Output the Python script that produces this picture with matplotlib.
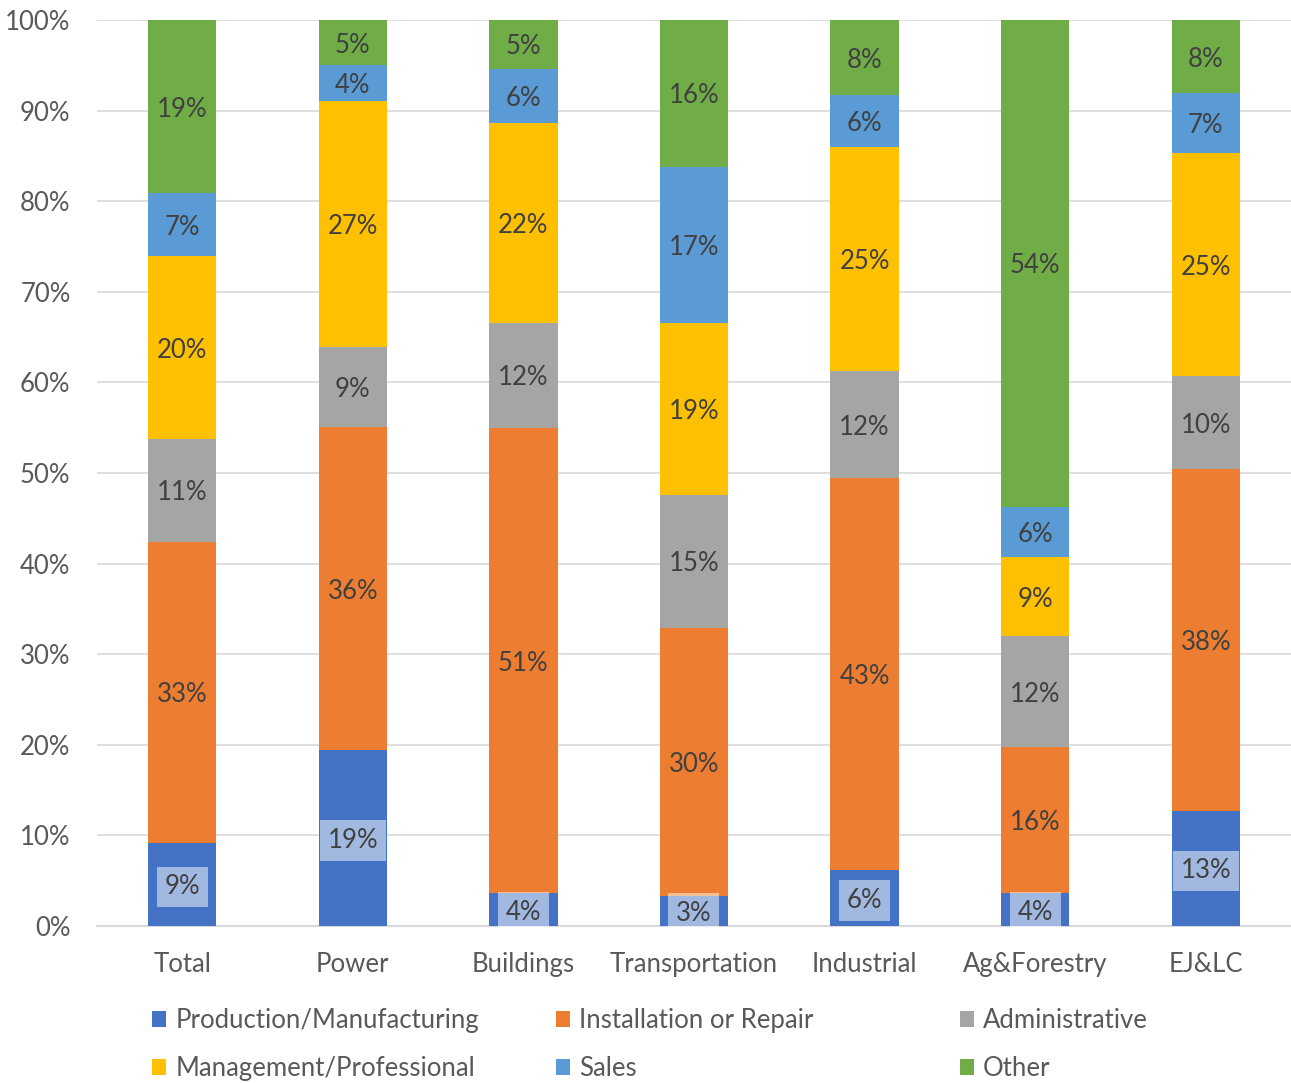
import matplotlib
matplotlib.use("Agg")
import matplotlib.pyplot as plt
import numpy as np
from matplotlib.patches import Patch

categories = ["Total", "Power", "Buildings", "Transportation", "Industrial", "Ag&Forestry", "EJ&LC"]
series_names = ["Production/Manufacturing", "Installation or Repair", "Administrative",
                "Management/Professional", "Sales", "Other"]
production = [9.2, 19.4, 3.6, 3.3, 6.2, 3.6, 12.7]
installation = [33.2, 35.7, 51.4, 29.6, 43.2, 16.1, 37.7]
administrative = [11.4, 8.8, 11.6, 14.7, 11.9, 12.3, 10.3]
management = [20.1, 27.2, 22.0, 19.0, 24.7, 8.7, 24.6]
sales = [7.0, 3.9, 6.0, 17.2, 5.7, 5.6, 6.6]
other = [19.1, 5.0, 5.4, 16.2, 8.3, 53.7, 8.1]
yticks = [0, 10, 20, 30, 40, 50, 60, 70, 80, 90, 100]

colors = ["#4472C4", "#ED7D31", "#A5A5A5", "#FFC000", "#5B9BD5", "#70AD47"]
series = [production, installation, administrative, management, sales, other]

FS = 18.5
plt.rcParams['font.family'] = ['Lato', 'DejaVu Sans']
fig = plt.figure(figsize=(12.91, 10.83), dpi=100)
ax = fig.add_axes([0.0751, 0.145, 0.9249, 0.8365])

x = np.arange(len(categories))
bottom = np.zeros(len(categories))
for i, (vals, col) in enumerate(zip(series, colors)):
    vals = np.array(vals)
    ax.bar(x, vals, 0.4, bottom=bottom, color=col, zorder=3)
    for xi, v, b in zip(x, vals, bottom):
        txt = f"{round(v):.0f}%"
        kw = {}
        if i == 0:
            kw['bbox'] = dict(boxstyle='square,pad=0.3', fc='white', ec='none', alpha=0.5)
        ax.text(xi, b + v / 2, txt, ha='center', va='center_baseline', fontsize=FS,
                color='#404040', zorder=4, **kw)
    bottom += vals

ax.set_xlim(-0.5, len(categories) - 0.5)
ax.set_ylim(0, 100)
ax.set_yticks(yticks)
ax.set_yticklabels([f"{t}%" for t in yticks])
ax.set_xticks(x)
ax.set_xticklabels(categories)
ax.tick_params(axis='both', length=0, labelsize=FS, labelcolor='#595959')
ax.tick_params(axis='x', pad=19)
ax.tick_params(axis='y', pad=19)
for s in ['top', 'right', 'left']:
    ax.spines[s].set_visible(False)
ax.spines['bottom'].set_color('#d9d9d9')
ax.spines['bottom'].set_linewidth(1.5)
ax.yaxis.grid(True, color='#d9d9d9', linewidth=1.2, zorder=0)
ax.set_axisbelow(True)

handles = [Patch(facecolor=c, edgecolor='none') for c in colors]
col_x = [152, 556, 960]
for c in range(3):
    idx = [c, c + 3]
    fig.legend([handles[k] for k in idx], [series_names[k] for k in idx],
               loc='upper left', bbox_to_anchor=(col_x[c] / 1291, 1 - 1008 / 1083),
               ncol=1, frameon=False, fontsize=FS, handlelength=0.55, handleheight=0.55,
               handletextpad=0.35, labelspacing=0.9, borderpad=0, borderaxespad=0,
               labelcolor='#595959')

fig.savefig("out.png", dpi=100)
